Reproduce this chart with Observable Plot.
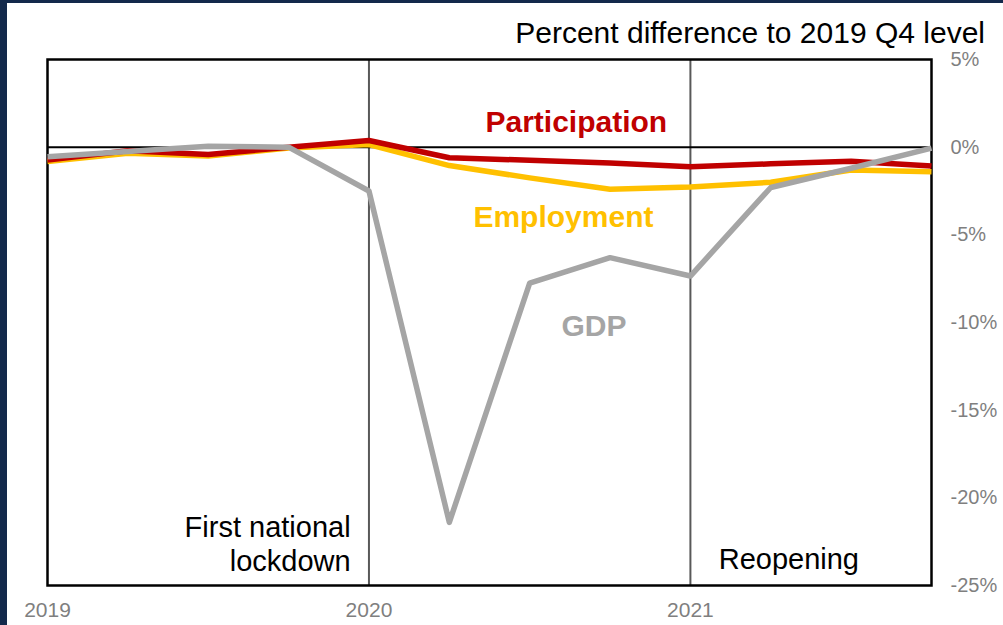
<!DOCTYPE html>
<html>
<head>
<meta charset="utf-8">
<script src="https://cdn.jsdelivr.net/npm/d3@7"></script>
<script src="https://cdn.jsdelivr.net/npm/@observablehq/plot@0.6"></script>
<style>
  html, body { margin: 0; padding: 0; background: #fff; }
  #page { position: relative; width: 1003px; height: 625px; overflow: hidden; background: #fff;
          font-family: Arial, "Liberation Sans", sans-serif; }
  #edgeL { position: absolute; left: 0; top: 0; width: 7px; height: 625px; background: #13294b; }
  #edgeT { position: absolute; left: 0; top: 0; width: 1003px; height: 3px; background: #13294b; }
  #title { position: absolute; right: 18px; top: 18px; font-size: 30px; line-height: 30px; color: #000; white-space: nowrap; }
  #chart { position: absolute; left: 0; top: 46px; }
  #chart svg { overflow: visible; }
</style>
</head>
<body>
<div id="page">
  <div id="title">Percent difference to 2019 Q4 level</div>
  <div id="chart"></div>
  <div id="edgeL"></div>
  <div id="edgeT"></div>
</div>
<script>
// Quarters (categories)
const quarters = ["2019 Q1","2019 Q2","2019 Q3","2019 Q4","2020 Q1","2020 Q2","2020 Q3","2020 Q4","2021 Q1","2021 Q2","2021 Q3","2021 Q4"];
// Percent difference to 2019 Q4 level
const gdp           = [-0.55, -0.25, 0.05, 0.0, -2.5, -21.4, -7.75, -6.3, -7.35, -2.3, -1.2, -0.05];
const participation = [-0.74, -0.2, -0.42, 0.0, 0.38, -0.6, -0.75, -0.9, -1.12, -0.95, -0.8, -1.08];
const employment    = [-0.82, -0.35, -0.5, -0.05, 0.15, -1.05, -1.75, -2.4, -2.27, -2.0, -1.3, -1.4];
// Axis ticks
const yTicks = [5, 0, -5, -10, -15, -20, -25];
const xTicks = [2019, 2020, 2021];
const eventYears = [2020, 2021];

const toYear = q => +q.slice(0, 4) + (+q.slice(6) - 1) / 4;
const series = [
  {name: "Employment", values: employment, color: "#FFC000"},
  {name: "Participation", values: participation, color: "#C00000"},
  {name: "GDP", values: gdp, color: "#A5A5A5"}
];
const rows = series.flatMap(s => quarters.map((q, i) => ({series: s.name, t: toYear(q), v: s.values[i]})));

const seriesLabels = [
  {text: "Participation", t: 2020.645, v: 0.85, color: "#C00000"},
  {text: "Employment", t: 2020.605, v: -4.57, color: "#FFC000"},
  {text: "GDP", t: 2020.70, v: -10.75, color: "#A5A5A5"}
];
const notesLeft = [
  {text: "First national", t: 2019.943, v: -22.21},
  {text: "lockdown", t: 2019.943, v: -24.15}
];
const notesRight = [
  {text: "Reopening", t: 2021.088, v: -24.04}
];

const chart = Plot.plot({
  width: 1003,
  height: 579,
  marginLeft: 47,
  marginRight: 72,
  marginTop: 13,
  marginBottom: 40,
  style: {fontFamily: "Arial, 'Liberation Sans', sans-serif", background: "transparent"},
  x: {domain: [2019, 2021.75]},
  y: {domain: [-25, 5]},
  marks: [
    Plot.ruleX(eventYears, {stroke: "#595959", strokeWidth: 2}),
    Plot.ruleY([0], {stroke: "#000", strokeWidth: 2}),
    Plot.frame({stroke: "#000", strokeWidth: 2.5}),
    ...series.map(s => Plot.line(rows.filter(r => r.series === s.name), {
      x: "t", y: "v", stroke: s.color, strokeWidth: 5.5, strokeLinejoin: "round", strokeLinecap: "butt"
    })),
    Plot.text(seriesLabels, {x: "t", y: "v", text: "text", fill: d => d.color, fontWeight: "bold",
      fontSize: 30, lineAnchor: "bottom", textAnchor: "middle"}),
    Plot.text(notesLeft, {x: "t", y: "v", text: "text", fill: "#000", fontSize: 29, lineAnchor: "bottom",
      textAnchor: "end"}),
    Plot.text(notesRight, {x: "t", y: "v", text: "text", fill: "#000", fontSize: 29, lineAnchor: "bottom",
      textAnchor: "start"}),
    Plot.axisY({anchor: "right", ticks: yTicks, tickSize: 0, tickPadding: 19, textAnchor: "start",
      tickFormat: d => `${d}%`, fill: "#7f7f7f", fontSize: 20, label: null}),
    Plot.axisX({anchor: "bottom", ticks: xTicks, tickSize: 0, tickPadding: 17,
      tickFormat: d => String(d), fill: "#7f7f7f", fontSize: 21, label: null})
  ]
});
document.getElementById("chart").appendChild(chart);
</script>
</body>
</html>
